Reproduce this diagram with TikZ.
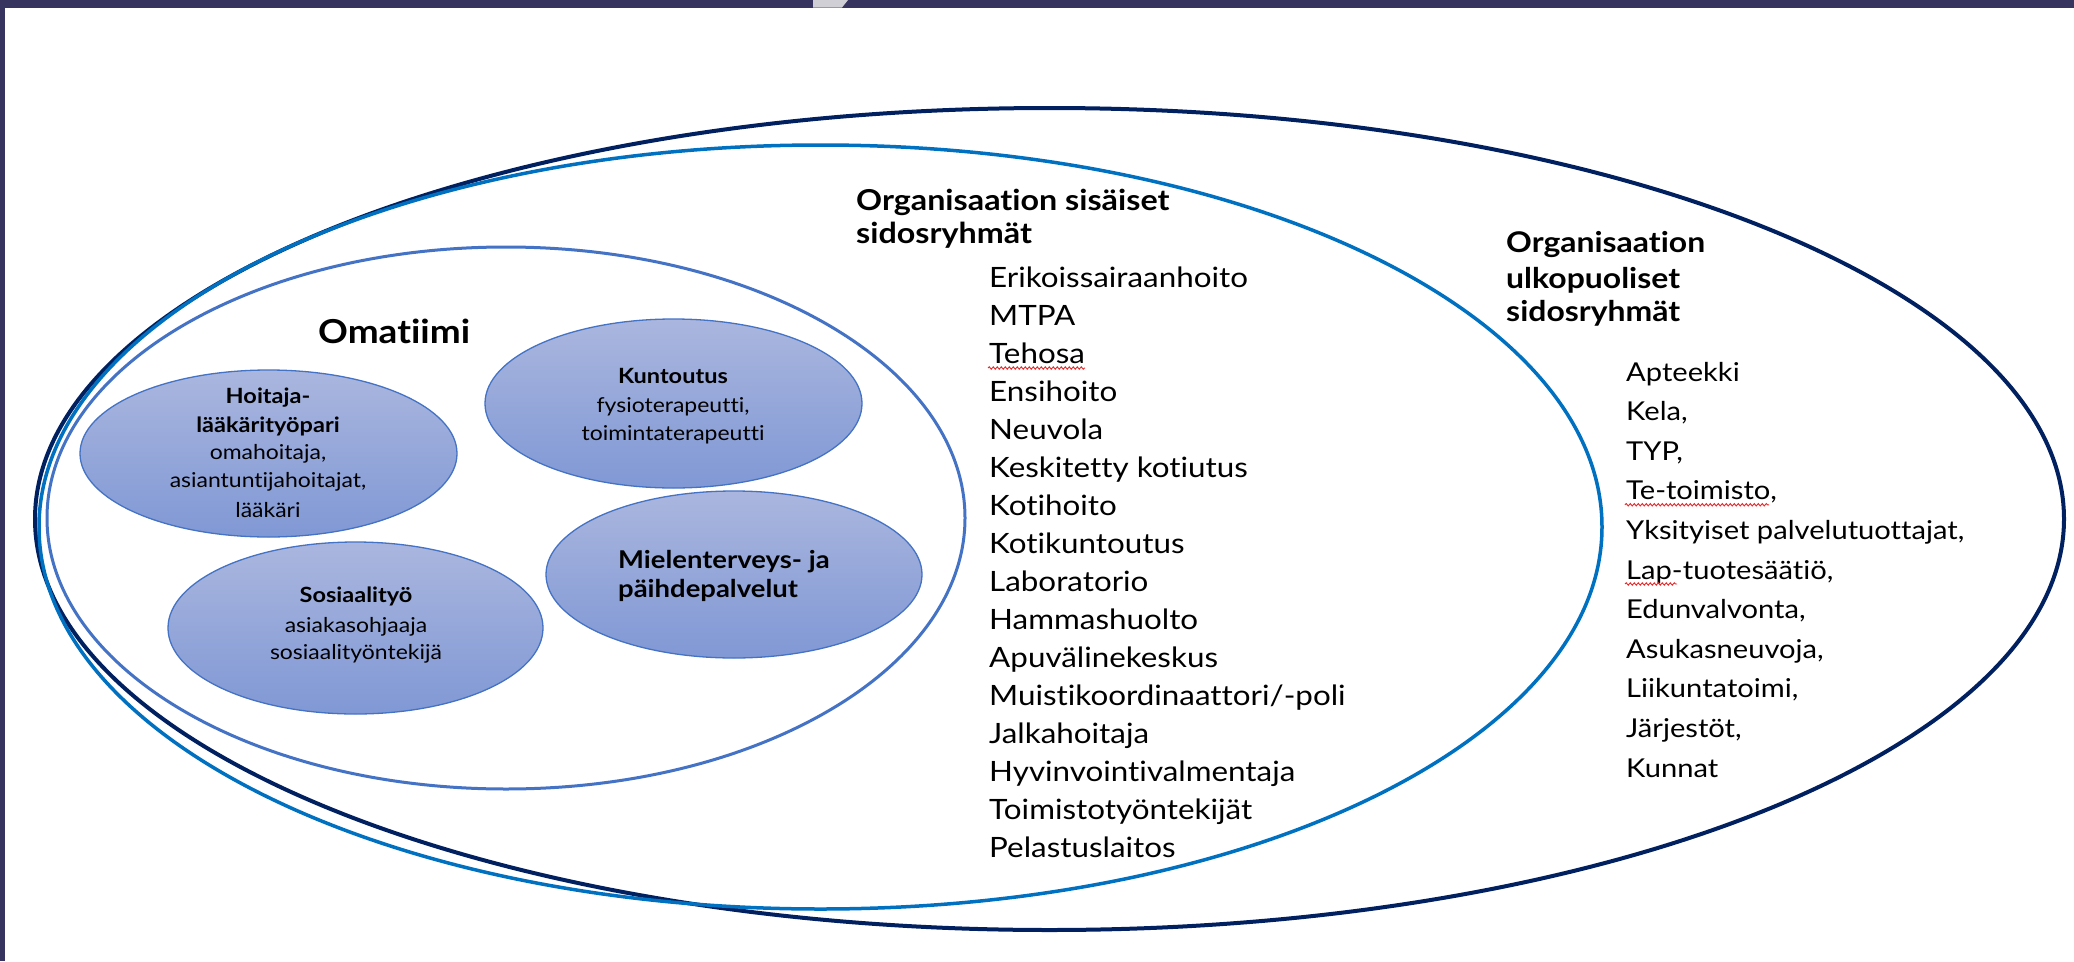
\documentclass[tikz,border=0pt]{standalone}
\usepackage{fontspec}
\setmainfont{Lato}[FakeStretch=1.12,Ligatures=NoCommon]
\usetikzlibrary{shapes.geometric,decorations.pathmorphing}
\definecolor{navybar}{RGB}{55,53,95}
\definecolor{bargrey}{RGB}{208,207,214}
\definecolor{outerC}{RGB}{0,32,96}
\definecolor{midC}{RGB}{0,112,192}
\definecolor{innerC}{RGB}{68,114,196}
\definecolor{fillTop}{RGB}{170,182,222}
\definecolor{fillBot}{RGB}{128,152,213}
\definecolor{squigC}{RGB}{230,40,40}
\begin{document}
\begin{tikzpicture}[x=1pt,y=-1pt,
  bigell/.style={ellipse, inner sep=0pt, outer sep=0pt},
  teamell/.style={ellipse, inner sep=0pt, draw=innerC, line width=1.3pt, top color=fillTop, bottom color=fillBot},
  listtxt/.style={anchor=base west, inner sep=0pt, font=\fontsize{28}{34}\selectfont},
  extlisttxt/.style={anchor=base west, inner sep=0pt, font=\fontsize{26}{32}\selectfont},
  headtxt/.style={anchor=base west, inner sep=0pt, font=\fontsize{28.8}{34}\selectfont\bfseries},
  extheadtxt/.style={anchor=base west, inner sep=0pt, font=\fontsize{28.5}{34}\selectfont\bfseries},
  titletxt/.style={anchor=base west, inner sep=0pt, font=\fontsize{33}{40}\selectfont\bfseries},
  teamhead/.style={anchor=base, inner sep=0pt, font=\fontsize{21}{26}\selectfont\bfseries},
  mielenhead/.style={anchor=base west, inner sep=0pt, font=\fontsize{24.5}{30}\selectfont\bfseries},
  teamtxt/.style={anchor=base, inner sep=0pt, font=\fontsize{20.5}{25}\selectfont},
  squiggle/.style={draw=squigC, line width=0.9pt, decorate, decoration={snake, amplitude=1.2pt, segment length=4pt}}
]
\useasboundingbox (0,0) rectangle (2074,961);
\fill[white] (0,0) rectangle (2074,961);
% frame bars
\fill[navybar] (0,0) rectangle (2074,7.5);
\fill[navybar] (0,0) rectangle (5,961);
\fill[bargrey] (813,0) -- (848,0) -- (842,7.5) -- (813,7.5) -- cycle;

% big ellipses
\node[bigell, draw=outerC, line width=4pt, minimum width=2029pt, minimum height=822pt] (outer) at (1049.5,519) {};
\node[bigell, draw=midC, line width=3.5pt, minimum width=1563pt, minimum height=764pt] (middle) at (820.5,527) {};
\node[bigell, draw=innerC, line width=3pt, minimum width=918pt, minimum height=542pt] (omaell) at (506,518) {};

% team ellipses
\node[teamell, minimum width=377pt, minimum height=167pt] (hoitaja) at (268.5,453.5) {};
\node[teamell, minimum width=377pt, minimum height=169pt] (kuntoutus) at (673.5,403.5) {};
\node[teamell, minimum width=376pt, minimum height=167pt] (mielen) at (734,574.5) {};
\node[teamell, minimum width=375pt, minimum height=172pt] (sosiaali) at (355.5,628) {};

% title
\node[titletxt] (omatiimi) at (318,343) {Omatiimi};

% team texts
\node[teamhead] (h1) at (268,403) {Hoitaja-};
\node[teamhead] (h2) at (268,432) {lääkärityöpari};
\node[teamtxt] (h3) at (268,459) {omahoitaja,};
\node[teamtxt] (h4) at (268,487) {asiantuntijahoitajat,};
\node[teamtxt] (h5) at (268,517) {lääkäri};

\node[teamhead] (k1) at (673,383) {Kuntoutus};
\node[teamtxt] (k2) at (673,412) {fysioterapeutti,};
\node[teamtxt] (k3) at (673,440) {toimintaterapeutti};

\node[mielenhead] (m1) at (618,568) {Mielenterveys- ja};
\node[mielenhead] (m2) at (618,597) {päihdepalvelut};

\node[teamhead] (s1) at (356,602) {Sosiaalityö};
\node[teamtxt] (s2) at (356,632) {asiakasohjaaja};
\node[teamtxt] (s3) at (356,659) {sosiaalityöntekijä};

% headings
\node[headtxt] (ih1) at (856,210) {Organisaation sisäiset};
\node[headtxt] (ih2) at (856,243) {sidosryhmät};
\node[extheadtxt] (eh1) at (1506,252) {Organisaation};
\node[extheadtxt] (eh2) at (1506,288) {ulkopuoliset};
\node[extheadtxt] (eh3) at (1506,321) {sidosryhmät};

% internal list
\foreach \t [count=\i from 0] in {{Erikoissairaanhoito},{MTPA},{Tehosa},{Ensihoito},{Neuvola},{Keskitetty kotiutus},{Kotihoito},{Kotikuntoutus},{Laboratorio},{Hammashuolto},{Apuvälinekeskus},{Muistikoordinaattori/-poli},{Jalkahoitaja},{Hyvinvointivalmentaja},{Toimistotyöntekijät},{Pelastuslaitos}}
  \node[listtxt] (int\i) at (989,287+38*\i) {\t};

% external list
\foreach \t [count=\i from 0] in {{Apteekki},{Kela,},{TYP,},{Te-toimisto,},{Yksityiset palvelutuottajat,},{Lap-tuotesäätiö,},{Edunvalvonta,},{Asukasneuvoja,},{Liikuntatoimi,},{Järjestöt,},{Kunnat}}
  \node[extlisttxt] (ext\i) at (1626,381+39.6*\i) {\t};

% spell-check squiggles
\draw[squiggle] ([shift={(-1,5)}]int2.base west) -- ([shift={(0,5)}]int2.base east);
\draw[squiggle] ([shift={(-1,5)}]ext3.base west) -- ([shift={(-8,5)}]ext3.base east);
\draw[squiggle] ([shift={(-1,5)}]ext5.base west) -- ++(52,0);
\end{tikzpicture}
\end{document}
